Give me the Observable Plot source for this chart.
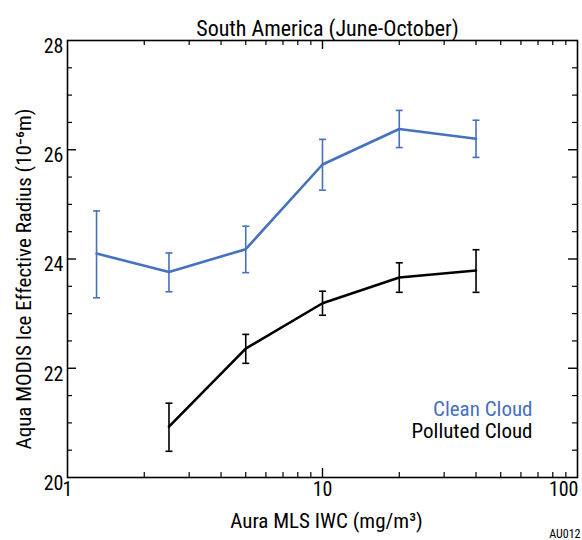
<!DOCTYPE html>
<html>
<head>
<meta charset="utf-8">
<script src="https://cdn.jsdelivr.net/npm/d3@7"></script>
<script src="https://cdn.jsdelivr.net/npm/@observablehq/plot@0.6"></script>
<style>
  html, body { margin: 0; padding: 0; background: #fff; }
</style>
</head>
<body>
<div id="chart"></div>
<script>
// ---- data ----
const titleText = "South America (June-October)";
const xLabel = "Aura MLS IWC (mg/m³)";
const yLabel = "Aqua MODIS Ice Effective Radius (10⁻⁶m)";
const seriesNames = ["Clean Cloud", "Polluted Cloud"];
const seriesColors = ["#4670c0", "#000000"];
const footnote = "AU012";

const cleanX = [1.3, 2.5, 5, 10, 20, 40];
const cleanY = [24.10, 23.76, 24.18, 25.73, 26.38, 26.20];
const cleanLo = [23.29, 23.40, 23.75, 25.26, 26.04, 25.86];
const cleanHi = [24.88, 24.11, 24.60, 26.19, 26.72, 26.54];

const pollutedX = [2.5, 5, 10, 20, 40];
const pollutedY = [20.93, 22.36, 23.19, 23.66, 23.79];
const pollutedLo = [20.48, 22.09, 22.97, 23.39, 23.39];
const pollutedHi = [21.36, 22.62, 23.41, 23.93, 24.17];

const xTickLabels = [1, 10, 100];
const xMinorTicks = [2, 3, 4, 5, 6, 7, 8, 9, 20, 30, 40, 50, 60, 70, 80, 90];
const xMajorTicks = [10];
const yTickLabels = [20, 22, 24, 26, 28];
const yMinorTicks = [20.5, 21, 21.5, 22.5, 23, 23.5, 24.5, 25, 25.5, 26.5, 27, 27.5];
const yMajorTicks = [22, 24, 26];

// ---- build ----
const clean = cleanX.map((x, i) => ({x, y: cleanY[i], lo: cleanLo[i], hi: cleanHi[i]}));
const polluted = pollutedX.map((x, i) => ({x, y: pollutedY[i], lo: pollutedLo[i], hi: pollutedHi[i]}));

const W = 582, H = 540;
const mL = 67, mR = 5, mT = 40, mB = 63;
const pw = W - mL - mR, ph = H - mT - mB;
const majorLen = 9, minorLen = 5;

const capSymbol = {
  draw(context, size) {
    const r = Math.sqrt(size / Math.PI);
    context.moveTo(-r, 0);
    context.lineTo(r, 0);
  }
};

const font = "'Liberation Sans Narrow', 'Roboto Condensed', 'DejaVu Sans Condensed', 'Noto Sans', sans-serif";

function seriesMarks(data, color) {
  return [
    Plot.ruleX(data, {x: "x", y1: "lo", y2: "hi", stroke: color, strokeWidth: 1.6}),
    Plot.dot(data, {x: "x", y: "hi", symbol: capSymbol, r: 3.5, stroke: color, strokeWidth: 1.6, fill: "none"}),
    Plot.dot(data, {x: "x", y: "lo", symbol: capSymbol, r: 3.5, stroke: color, strokeWidth: 1.6, fill: "none"}),
    Plot.line(data, {x: "x", y: "y", stroke: color, strokeWidth: 2.6})
  ];
}

const chart = Plot.plot({
  width: W,
  height: H,
  marginLeft: mL,
  marginRight: mR,
  marginTop: mT,
  marginBottom: mB,
  style: {fontFamily: font, background: "#fff", color: "#000"},
  x: {type: "log", domain: [1, 100], axis: null},
  y: {domain: [20, 28], axis: null},
  marks: [
    // inward ticks, bottom & top
    Plot.tickX(xMinorTicks, {x: d => d, insetTop: ph - minorLen, stroke: "#000", strokeWidth: 1.2}),
    Plot.tickX(xMinorTicks, {x: d => d, insetBottom: ph - minorLen, stroke: "#000", strokeWidth: 1.2}),
    Plot.tickX(xMajorTicks, {x: d => d, insetTop: ph - majorLen, stroke: "#000", strokeWidth: 1.4}),
    Plot.tickX(xMajorTicks, {x: d => d, insetBottom: ph - majorLen, stroke: "#000", strokeWidth: 1.4}),
    // inward ticks, left & right
    Plot.tickY(yMinorTicks, {y: d => d, insetRight: pw - minorLen, stroke: "#000", strokeWidth: 1.2}),
    Plot.tickY(yMinorTicks, {y: d => d, insetLeft: pw - minorLen, stroke: "#000", strokeWidth: 1.2}),
    Plot.tickY(yMajorTicks, {y: d => d, insetRight: pw - majorLen, stroke: "#000", strokeWidth: 1.4}),
    Plot.tickY(yMajorTicks, {y: d => d, insetLeft: pw - majorLen, stroke: "#000", strokeWidth: 1.4}),
    Plot.frame({stroke: "#000", strokeWidth: 1.6}),
    // tick labels
    Plot.text(yTickLabels, {y: d => d, text: d => String(d), frameAnchor: "left", textAnchor: "end", dx: -4, dy: 6, fontSize: 20, fill: "#000"}),
    Plot.text(xTickLabels.slice(0, 2), {x: d => d, text: d => String(d), frameAnchor: "bottom", lineAnchor: "top", textAnchor: "middle", dy: 4, fontSize: 20, fill: "#000"}),
    Plot.text(xTickLabels.slice(2), {x: d => d, text: d => String(d), frameAnchor: "bottom", lineAnchor: "top", textAnchor: "end", dx: 1, dy: 4, fontSize: 20, fill: "#000"}),
    // axis labels and title
    Plot.text([xLabel], {text: d => d, frameAnchor: "bottom", lineAnchor: "bottom", textAnchor: "middle", dy: 50, dx: 4, fontSize: 21, fill: "#000"}),
    Plot.text([yLabel], {text: d => d, frameAnchor: "left", rotate: -90, lineAnchor: "middle", textAnchor: "middle", dx: -43, dy: 20, fontSize: 21, fill: "#000"}),
    Plot.text([titleText], {text: d => d, frameAnchor: "top", lineAnchor: "bottom", textAnchor: "middle", dy: -5, dx: 5, fontSize: 22, fill: "#000"}),
    Plot.text([footnote], {text: d => d, frameAnchor: "bottom-right", lineAnchor: "bottom", textAnchor: "end", dx: 3, dy: 60, fontSize: 12, fill: "#000"}),
    // data
    ...seriesMarks(clean, seriesColors[0]),
    ...seriesMarks(polluted, seriesColors[1]),
    // legend
    Plot.text([seriesNames[0]], {text: d => d, frameAnchor: "bottom-right", textAnchor: "end", lineAnchor: "bottom", dx: -45, dy: -62, fontSize: 21, fill: seriesColors[0]}),
    Plot.text([seriesNames[1]], {text: d => d, frameAnchor: "bottom-right", textAnchor: "end", lineAnchor: "bottom", dx: -45, dy: -40, fontSize: 21, fill: seriesColors[1]})
  ]
});

document.getElementById("chart").appendChild(chart);
</script>
</body>
</html>
